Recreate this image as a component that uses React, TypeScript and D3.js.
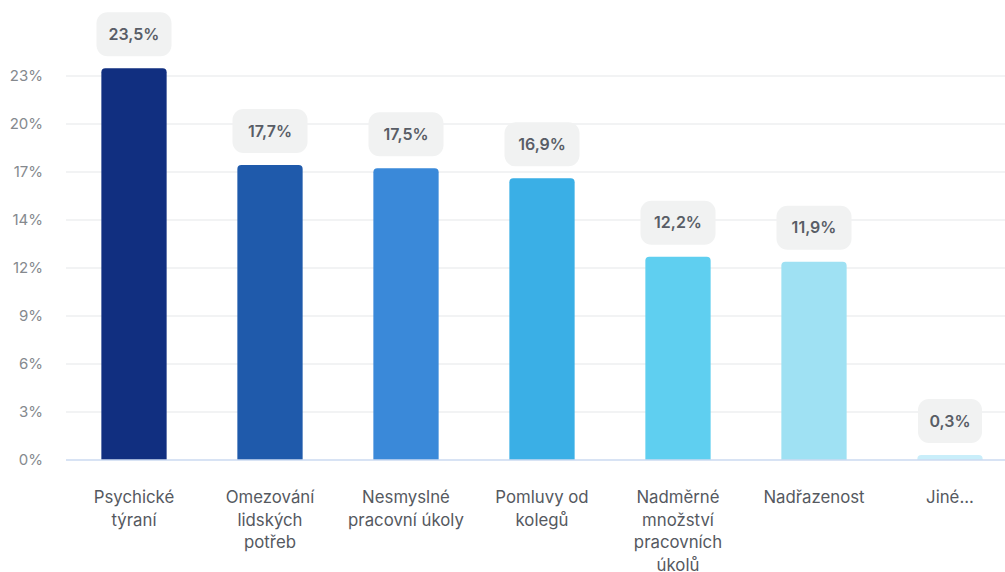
import React from "react";
import * as d3 from "d3";

const categories: string[][] = [
  ["Psychické", "týraní"],
  ["Omezování", "lidských", "potřeb"],
  ["Nesmyslné", "pracovní úkoly"],
  ["Pomluvy od", "kolegů"],
  ["Nadměrné", "množství", "pracovních", "úkolů"],
  ["Nadřazenost"],
  ["Jiné..."],
];
const values: number[] = [23.5, 17.7, 17.5, 16.9, 12.2, 11.9, 0.3];
const valueLabels: string[] = ["23,5%", "17,7%", "17,5%", "16,9%", "12,2%", "11,9%", "0,3%"];
const colors: string[] = ["#112f80", "#1f5aab", "#3a89d9", "#3aafe6", "#5fcff0", "#9fe1f3", "#c9eefa"];
const tickLabels: string[] = ["0%", "3%", "6%", "9%", "12%", "14%", "17%", "20%", "23%"];
const tickStep = 2.88;

const W = 1005;
const H = 572;
const left = 66;
const baseY = 460;
const font = "Inter, 'Noto Sans', sans-serif";

export default function App() {
  const y = d3.scaleLinear().domain([0, tickStep * 8]).range([baseY, 76]);
  const x = d3
    .scaleBand<number>()
    .domain(d3.range(values.length))
    .range([left, 1018])
    .paddingInner(0.52)
    .paddingOuter(0.26);
  const bw = x.bandwidth();
  const r = 4;
  const barPath = (x0: number, y0: number, w: number, h: number) => {
    const rr = Math.min(r, h);
    return `M${x0},${y0 + h}V${y0 + rr}Q${x0},${y0} ${x0 + rr},${y0}H${x0 + w - rr}Q${x0 + w},${y0} ${x0 + w},${y0 + rr}V${y0 + h}Z`;
  };
  return (
    <svg width={W} height={H} style={{ position: "absolute", left: 0, top: 0, background: "#fff" }}>
      {tickLabels.map((t, i) => {
        const yy = y(i * tickStep);
        return (
          <g key={i}>
            {i > 0 && <line x1={left} x2={W} y1={yy} y2={yy} stroke="#e6e7e9" strokeWidth={1.2} />}
            <text x={43} y={yy} dy="0.35em" textAnchor="end" fontFamily={font} fontSize={15} fill="#85898e">
              {t}
            </text>
          </g>
        );
      })}
      {values.map((v, i) => {
        const x0 = x(i)!;
        const yt = y(v);
        const cx = x0 + bw / 2;
        const boxW = valueLabels[i].length > 4 ? 75 : 64;
        const boxH = 44;
        const boxY = yt - 12 - boxH;
        return (
          <g key={i}>
            <path d={barPath(x0, yt, bw, baseY - yt)} fill={colors[i]} />
            <rect x={cx - boxW / 2} y={boxY} width={boxW} height={boxH} rx={11} fill="#f1f2f2" />
            <text
              x={cx}
              y={boxY + boxH / 2}
              dy="0.36em"
              textAnchor="middle"
              fontFamily={font}
              fontSize={16}
              fontWeight={600}
              fill="#585d66"
            >
              {valueLabels[i]}
            </text>
            {categories[i].map((line, j) => (
              <text
                key={j}
                x={cx}
                y={503 + j * 22.5}
                textAnchor="middle"
                fontFamily={font}
                fontSize={16.8}
                fill="#55595f"
              >
                {line}
              </text>
            ))}
          </g>
        );
      })}
      <line x1={left} x2={W} y1={baseY} y2={baseY} stroke="#cbdaf0" strokeWidth={1.5} />
    </svg>
  );
}
